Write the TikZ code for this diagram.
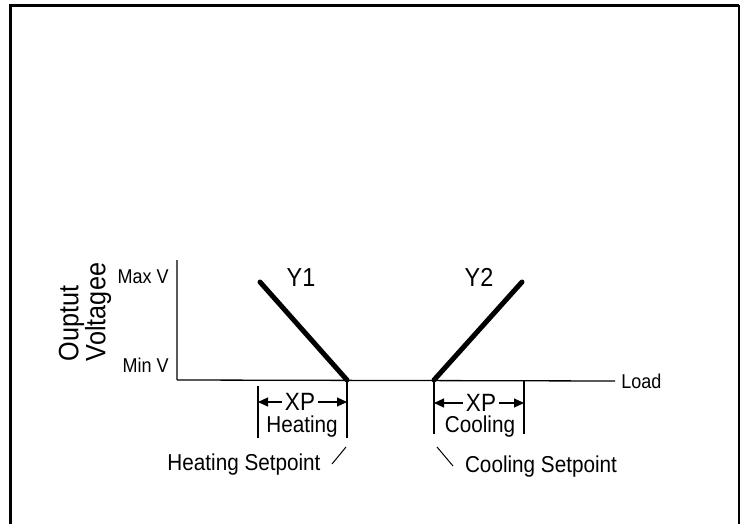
\documentclass[tikz,border=0pt]{standalone}
\usepackage{fontspec}
\setmainfont[FakeStretch=0.9]{Liberation Sans}
\usetikzlibrary{arrows.meta}
\begin{document}
\begin{tikzpicture}[x=1pt, y=-1pt, thick,
        txt/.style = {inner sep=0pt, font=\fontsize{23}{23}\selectfont},
        big/.style = {inner sep=0pt, font=\fontsize{26}{26}\selectfont},
        small/.style = {inner sep=0pt, font=\fontsize{20}{20}\selectfont},
        curve/.style = {line width=5pt, line cap=round},
        span/.style = {line width=2pt},
        xparrow/.style = {line width=1.2pt, -{Triangle[length=10pt, width=9pt]}}]
        \useasboundingbox (0,0) rectangle (740,524);
        \draw[line width=3pt] (10.5,524) -- (10.5,5.5) -- (739,5.5);
        \draw[line width=1.5pt] (739,5.5) -- (739,524);

        \coordinate (o) at (177,380);
        \coordinate (top) at (177,260);
        \coordinate (hs) at (347,380);
        \coordinate (cs) at (434,380);
        \node[small, anchor=west] (load) at (621,381) {Load};
        \draw[gray!70!black, line width=1.2pt] (o) -- (top);
        \draw[line width=1.3pt] (o) -- ([xshift=-6pt]load.west);

        \node[small, anchor=east] (max) at (169,277) {Max V};
        \node[small, anchor=east] (min) at (169,365) {Min V};
        \node[inner sep=0pt, rotate=90, align=left, font=\fontsize{28}{23}\selectfont] (volt) at (85,312) {Ouptut\\Voltagee};

        \coordinate (y1a) at (260,282);
        \coordinate (y2b) at (522,282);
        \node[big] (y1) at (301,278) {Y1};
        \node[big] (y2) at (479,277) {Y2};
        \draw[curve] (y1a) -- (hs);
        \draw[curve] (cs) -- (y2b);

        \coordinate (h1) at (258,386);
        \coordinate (h2) at (258,438);
        \coordinate (h3) at (347,438);
        \draw[span] (h1) -- (h2);
        \draw[span] (hs) -- (h3);
        \node[big, font=\fontsize{25}{25}\selectfont] (xph) at (300,402) {XP};
        \node[txt] (heat) at (302,427) {Heating};
        \draw[xparrow, shorten <=3pt] (xph.west) -- (xph -| h1);
        \draw[xparrow, shorten <=3pt] (xph.east) -- (xph -| hs);

        \coordinate (c1) at (434,434);
        \coordinate (c2) at (524,380);
        \coordinate (c3) at (524,434);
        \draw[span] (cs) -- (c1);
        \draw[span] (c2) -- (c3);
        \node[big, font=\fontsize{25}{25}\selectfont] (xpc) at (481,403) {XP};
        \node[txt] (cool) at (480,427) {Cooling};
        \draw[xparrow, shorten <=3pt] (xpc.west) -- (xpc -| cs);
        \draw[xparrow, shorten <=3pt] (xpc.east) -- (xpc -| c2);

        \node[txt] (hsp) at (244,465) {Heating Setpoint};
        \node[txt] (csp) at (541,467) {Cooling Setpoint};
        \coordinate (ha) at (332,464);
        \coordinate (hb) at (346,447);
        \coordinate (ca) at (437,447);
        \coordinate (cb) at (453,466);
        \draw[line width=1pt] (ha) -- (hb);
        \draw[line width=1pt] (ca) -- (cb);

    \end{tikzpicture}
\end{document}
